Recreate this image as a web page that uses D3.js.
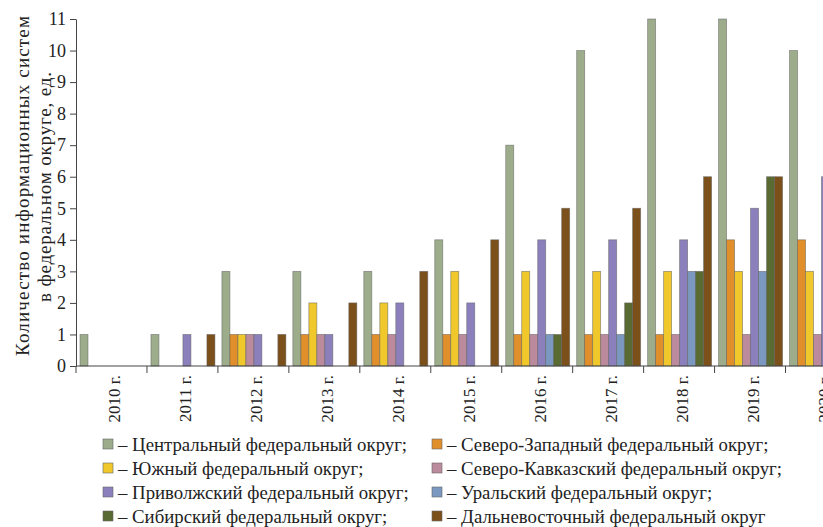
<!DOCTYPE html>
<html>
<head>
<meta charset="utf-8">
<script src="https://cdn.jsdelivr.net/npm/d3@7"></script>
<style>
  body { margin: 0; background: #fff; }
  svg { display: block; font-family: "Liberation Serif", "DejaVu Serif", serif; }
</style>
</head>
<body>
<div id="chart"></div>
<script>
// years on the x axis
const years = ["2010 г.", "2011 г.", "2012 г.", "2013 г.", "2014 г.", "2015 г.",
  "2016 г.", "2017 г.", "2018 г.", "2019 г.", "2020 г."];

// one array per federal district
const central      = [1, 1, 3, 3, 3, 4, 7, 10, 11, 11, 10];
const northWest    = [0, 0, 1, 1, 1, 1, 1, 1, 1, 4, 4];
const southern     = [0, 0, 1, 2, 2, 3, 3, 3, 3, 3, 3];
const northCaucas  = [0, 0, 1, 1, 1, 1, 1, 1, 1, 1, 1];
const volga        = [0, 1, 1, 1, 2, 2, 4, 4, 4, 5, 6];
const ural         = [0, 0, 0, 0, 0, 0, 1, 1, 3, 3, 3];
const siberian     = [0, 0, 0, 0, 0, 0, 1, 2, 3, 6, 6];
const farEast      = [0, 1, 1, 2, 3, 4, 5, 5, 6, 6, 6];

const seriesNames = [
  "Центральный федеральный округ;",
  "Северо-Западный федеральный округ;",
  "Южный федеральный округ;",
  "Северо-Кавказский федеральный округ;",
  "Приволжский федеральный округ;",
  "Уральский федеральный округ;",
  "Сибирский федеральный округ;",
  "Дальневосточный федеральный округ"
];
const seriesValues = [central, northWest, southern, northCaucas, volga, ural, siberian, farEast];
const colors = ["#9dad8c", "#e08f2a", "#f0c82c", "#bb8a9c", "#8c80bc", "#7a98c0", "#5a6a33", "#7c501a"];

const yTicks = d3.range(0, 12);

const width = 823, height = 527;

const svg = d3.select("#chart")
  .append("svg")
    .attr("width", width)
    .attr("height", height);

// scales
const x0 = d3.scaleBand()
  .domain(years)
  .range([76, 856.5])
  .padding(0);

const x1 = d3.scaleBand()
  .domain(d3.range(seriesNames.length))
  .range([4, x0.bandwidth() - 3])
  .padding(0);

const y = d3.scaleLinear()
  .domain([0, 11])
  .range([366, 19]);

// flatten to one record per bar
const bars = [];
years.forEach((yr, i) => {
  seriesValues.forEach((vals, s) => {
    if (vals[i] > 0) bars.push({ year: yr, s: s, value: vals[i] });
  });
});

// bars
svg.append("g")
  .selectAll("rect")
  .data(bars)
  .enter().append("rect")
    .attr("x", d => x0(d.year) + x1(d.s))
    .attr("y", d => y(d.value))
    .attr("width", x1.bandwidth())
    .attr("height", d => y(0) - y(d.value))
    .attr("fill", d => colors[d.s])
    .attr("stroke", "#5e5e5e")
    .attr("stroke-opacity", 0.6)
    .attr("stroke-width", 0.8);

// Y axis
const yAxis = svg.append("g")
  .attr("transform", `translate(${x0.range()[0]},0)`)
  .call(d3.axisLeft(y).tickValues(yTicks).tickSize(6).tickSizeOuter(0).tickPadding(4));
yAxis.select(".domain").attr("stroke", "#444");
yAxis.selectAll(".tick line").attr("stroke", "#444");
yAxis.selectAll("text")
  .attr("fill", "#222")
  .style("font-size", "18px")
  .style("font-family", "Liberation Serif");

// X axis: ticks at band boundaries
const xAxisG = svg.append("g")
  .attr("transform", `translate(0,${y(0)})`);
xAxisG.append("line")
  .attr("x1", x0.range()[0])
  .attr("x2", x0.range()[1])
  .attr("stroke", "#444");
xAxisG.selectAll("line.tick")
  .data(years)
  .enter().append("line")
    .attr("class", "tick")
    .attr("x1", d => x0(d))
    .attr("x2", d => x0(d))
    .attr("y1", 0)
    .attr("y2", 7)
    .attr("stroke", "#444");
xAxisG.selectAll("text")
  .data(years)
  .enter().append("text")
    .attr("transform", d => `translate(${x0(d) + x0.bandwidth() / 2 + 3},9) rotate(-90)`)
    .attr("dy", "0.35em")
    .attr("text-anchor", "end")
    .attr("fill", "#222")
    .style("font-size", "17px")
    .text(d => d);

// Y axis title, two lines
svg.append("text")
  .attr("transform", `translate(29,186) rotate(-90)`)
  .attr("text-anchor", "middle")
  .attr("fill", "#222")
  .attr("textLength", 340)
  .attr("lengthAdjust", "spacing")
  .style("font-size", "19px")
  .text("Количество информационных систем");
svg.append("text")
  .attr("transform", `translate(51,187) rotate(-90)`)
  .attr("text-anchor", "middle")
  .attr("fill", "#222")
  .attr("textLength", 230)
  .attr("lengthAdjust", "spacing")
  .style("font-size", "19px")
  .text("в федеральном округе, ед.");

// legend, two columns of four
const legend = svg.append("g");
const legendItems = legend.selectAll("g")
  .data(seriesNames)
  .enter().append("g")
    .attr("transform", (d, i) => `translate(${i % 2 === 0 ? 103 : 432},${444 + Math.floor(i / 2) * 24})`);
legendItems.append("rect")
  .attr("x", 0)
  .attr("y", -5)
  .attr("width", 10)
  .attr("height", 10)
  .attr("fill", (d, i) => colors[i])
  .attr("stroke", "#666")
  .attr("stroke-width", 0.6);
legendItems.append("text")
  .attr("x", 15)
  .attr("dy", "0.35em")
  .attr("fill", "#222")
  .style("font-size", "18.8px")
  .text(d => "– " + d);
</script>
</body>
</html>
